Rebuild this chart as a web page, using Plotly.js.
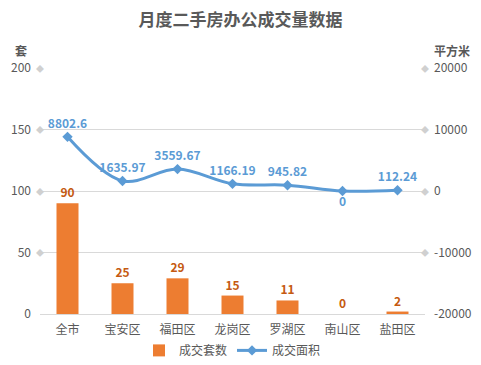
<!DOCTYPE html>
<html>
<head>
<meta charset="utf-8">
<script src="https://cdn.plot.ly/plotly-3.0.1.min.js"></script>
<style>html,body{margin:0;padding:0;background:#fff;}#chart{width:481px;height:365px;}</style>
</head>
<body>
<div id="chart"></div>
<script>
var categories = ['全市','宝安区','福田区','龙岗区','罗湖区','南山区','盐田区'];
var units = [90, 25, 29, 15, 11, 0, 2];
var areas = [8802.6, 1635.97, 3559.67, 1166.19, 945.82, 0, 112.24];
var areaLabels = ['8802.6','1635.97','3559.67','1166.19','945.82','0','112.24'];
var areaLabelPos = ['top center','top center','top center','top center','top center','bottom center','top center'];
var leftTicks = [0, 50, 100, 150, 200];
var rightTicks = [-20000, -10000, 0, 10000, 20000];
var rightTickText = ['-20000', '-10000', '0', '10000', '20000'];

var font = 'Noto Sans CJK SC, Noto Sans, sans-serif';
var traces = [
  {
    type: 'bar', name: '成交套数', x: categories, y: units,
    marker: {color: '#ED7D31'},
    text: units.map(String), textposition: 'outside', cliponaxis: false,
    textfont: {color: '#C55A11', size: 12, family: font, weight: 'bold'},
    hoverinfo: 'none'
  },
  {
    type: 'scatter', mode: 'lines+markers+text', name: '成交面积', x: categories, y: areas,
    yaxis: 'y2',
    line: {color: '#5B9BD5', width: 3, shape: 'spline', smoothing: 1},
    marker: {symbol: 'diamond', size: 8, color: '#5B9BD5'},
    text: areaLabels, textposition: areaLabelPos, cliponaxis: false,
    textfont: {color: '#5B9BD5', size: 12, family: font, weight: 'bold'},
    hoverinfo: 'none'
  }
];

var annotations = [];
leftTicks.slice(1).forEach(function(v){
  annotations.push({xref:'paper', yref:'y', x:0, y:v, text:'◆', showarrow:false, font:{size:8, color:'#D0D0D0'}, xanchor:'center', yanchor:'middle'});
  annotations.push({xref:'paper', yref:'y', x:1, y:v, text:'◆', showarrow:false, font:{size:8, color:'#D0D0D0'}, xanchor:'center', yanchor:'middle'});
});
annotations.push({xref:'paper', yref:'paper', x:-0.05, y:1.03, text:'套', showarrow:false, font:{size:12, color:'#595959', family:font, weight:'bold'}, xanchor:'center', yanchor:'bottom'});
annotations.push({xref:'paper', yref:'paper', x:1.07, y:1.03, text:'平方米', showarrow:false, font:{size:12, color:'#595959', family:font, weight:'bold'}, xanchor:'center', yanchor:'bottom'});

var layout = {
  width: 481, height: 365,
  margin: {l: 40, r: 56, t: 68, b: 51},
  paper_bgcolor: '#fff', plot_bgcolor: '#fff',
  font: {family: font, color: '#595959', size: 12},
  title: {text: '月度二手房办公成交量数据', x: 0.5, xanchor: 'center', y: 0.945, yanchor: 'middle',
          font: {size: 17, color: '#595959', family: font, weight: 'bold'}},
  bargap: 0.6,
  showlegend: true,
  legend: {orientation: 'h', x: 0.5, xanchor: 'center', yref: 'container', y: 0.04, yanchor: 'middle',
           font: {size: 12, color: '#595959'}, traceorder: 'normal'},
  xaxis: {tickfont: {size: 12, color: '#595959'}, showline: true, linecolor: '#D9D9D9', linewidth: 1,
          ticks: '', ticklabelstandoff: 5, automargin: false, fixedrange: true},
  yaxis: {range: [0, 200], tickvals: leftTicks, showgrid: true, gridcolor: '#D9D9D9', gridwidth: 1,
          zeroline: false, ticks: '', automargin: false, ticklabelstandoff: 8, tickfont: {size: 12, color: '#595959'}},
  yaxis2: {range: [-20000, 20000], tickvals: rightTicks, ticktext: rightTickText, overlaying: 'y', side: 'right', showgrid: false,
           zeroline: false, ticks: '', automargin: false, ticklabelstandoff: 8, tickfont: {size: 12, color: '#595959'}},
  annotations: annotations
};

Plotly.newPlot('chart', traces, layout, {displayModeBar: false, staticPlot: true});
</script>
</body>
</html>
